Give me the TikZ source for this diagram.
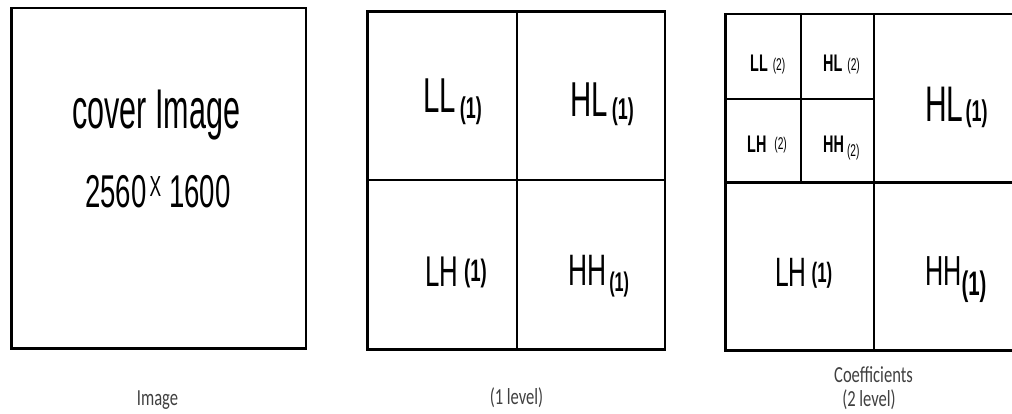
\documentclass[tikz,border=0pt]{standalone}
\usepackage{fontspec}
\setmainfont{Liberation Sans}
\newfontfamily\covf[FakeStretch=0.545]{Liberation Sans}
\newfontfamily\numf[FakeStretch=0.6]{Liberation Sans}
\newfontfamily\labf[FakeStretch=0.6]{Liberation Sans}
\newfontfamily\capf[FakeStretch=0.72]{Carlito}
\newcommand\fsz[1]{\fontsize{#1}{#1}\selectfont}
% #1 main size, #2 main text, #3 gap, #4 sub size, #5 sub lowering, #6 sub text
\newcommand\sublab[6]{{\labf\fsz{#1}#2}\kern#3pt\raisebox{-#5pt}{\labf\bfseries\fsz{#4}#6}}
\newcommand\smlab[6]{{\labf\bfseries\fsz{#1}#2}\kern#3pt\raisebox{-#5pt}{\labf\fsz{#4}#6}}
\tikzset{
  outerln/.style={line width=2.8pt},
  innerln/.style={line width=2pt},
  labtxt/.style={anchor=base west, inner sep=0pt, text=black},
  captxt/.style={anchor=base, inner sep=0pt, text=black!75, font=\capf\fsz{23}},
}
\begin{document}
\begin{tikzpicture}[x=1pt,y=-1pt]
\useasboundingbox (0,0) rectangle (1012,414);
\clip (0,0) rectangle (1012,414);
% Box 1: cover image
\draw[outerln] (11.5,8) rectangle (306,348.5);
\node[labtxt] (cov1) at (72,129) {\covf\fsz{56}cover Image};
\node[labtxt] (cov2) at (85,208) {\numf\fsz{46}2560\kern3pt\raisebox{12pt}{\fsz{29}X}\kern8pt1600};
\node[captxt] (c1) at (157.5,405) {Image};
% Box 2: 1 level
\draw[outerln] (367.5,11.5) rectangle (665,349.5);
\draw[innerln] (516.7,11.5) -- (516.7,349.5);
\draw[outerln] (367.5,180) -- (665,180);
\node[labtxt] (ll1) at (423,113) {\sublab{49}{LL}{4}{30}{6}{(1)}};
\node[labtxt] (hl1) at (570,117) {\sublab{49}{HL}{4}{30}{3}{(1)}};
\node[labtxt] (lh1) at (425,286) {\sublab{43}{LH}{6}{31}{-5}{(1)}};
\node[labtxt] (hh1) at (568,285) {\sublab{44}{HH}{3}{27}{6}{(1)}};
\node[captxt] (c2) at (516.5,404) {(1 level)};
% Box 3: 2 level
\draw[outerln] (725.7,14) rectangle (1040,350.7);
\draw[outerln] (725.7,182.3) -- (1040,182.3);
\draw[innerln] (874,14) -- (874,350.7);
\draw[outerln] (725.7,99) -- (874,99);
\draw[innerln] (800.7,14) -- (800.7,182.3);
\node[labtxt] (ll2) at (750,72) {\smlab{24}{LL}{5}{17}{-1.5}{(2)}};
\node[labtxt] (hl2) at (823,72) {\smlab{24}{HL}{5}{17}{-1.5}{(2)}};
\node[labtxt] (lh2) at (747,153) {\smlab{24}{LH}{8}{17}{-3}{(2)}};
\node[labtxt] (hh2) at (823,153) {\smlab{24}{HH}{3}{17}{3.5}{(2)}};
\node[labtxt] (hl1b) at (925,122) {\sublab{50}{HL}{2}{30}{0}{(1)}};
\node[labtxt] (lh1b) at (775,286) {\sublab{41}{LH}{5}{28}{-4}{(1)}};
\node[labtxt] (hh1b) at (925,285) {\sublab{42}{HH}{0}{34}{10}{(1)}};
\node[captxt] (c3) at (873.5,382) {Coefficients};
\node[captxt] (c4) at (869,406) {(2 level)};
\end{tikzpicture}
\end{document}
